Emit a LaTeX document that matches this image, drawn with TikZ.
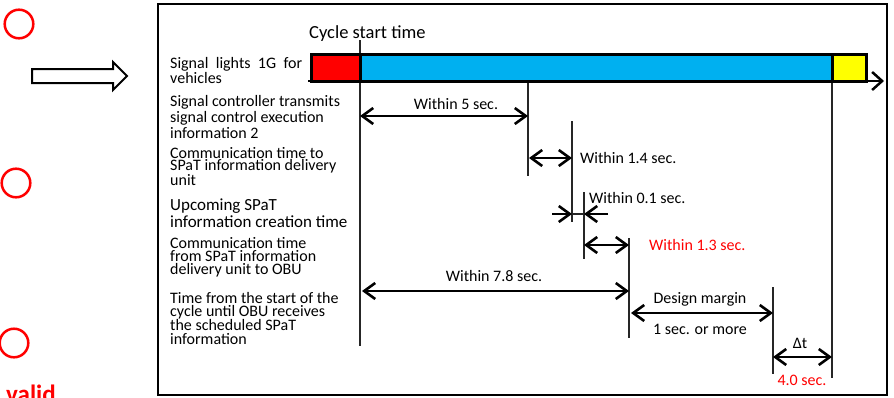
\documentclass[tikz,border=0pt]{standalone}
\usepackage{fontspec}
\setmainfont{Carlito}
\usetikzlibrary{arrows.meta}
\definecolor{barred}{RGB}{255,0,0}
\definecolor{barblue}{RGB}{0,176,240}
\definecolor{baryellow}{RGB}{255,255,0}
\definecolor{warn}{RGB}{255,0,0}
% multi-line label: #1 = font size, #2 = line spacing, #3 = text
\newcommand\rowtext[3]{\parbox[t]{190pt}{\fontsize{#1}{#2}\selectfont\raggedright #3}}
\begin{document}
\begin{tikzpicture}[x=1pt,y=-1pt,
  tick/.style={line width=1.3pt, draw=black!85},
  barb/.tip={Straight Barb[length=11pt,width=16pt]},
  dim/.style={line width=2.6pt, barb-barb},
  onehead/.style={line width=2.6pt, -barb},
  rowlabel/.style={anchor=base west, inner sep=0pt},
  val/.style={anchor=base, inner sep=0pt, font=\fontsize{16}{19}\selectfont},
  valw/.style={anchor=base west, inner sep=0pt, font=\fontsize{16}{19}\selectfont},
  ringmark/.style={draw=warn, line width=2.5pt},
]
\useasboundingbox (0,0) rectangle (894,397);

% red circle marks and the block arrow on the left
\draw[ringmark] (19,24) circle (14.3pt);
\draw[ringmark] (16,183) circle (14.3pt);
\draw[ringmark] (14,343) circle (14.3pt);
\node[anchor=base west, inner sep=0pt, text=warn, font=\fontsize{25}{28}\selectfont\bfseries] (valid) at (6,402) {valid.};
\draw[line width=2pt, fill=white] (32,69) -- (113,69) -- (113,62) -- (127,76)
  -- (113,90) -- (113,83) -- (32,83) -- cycle;

% frame
\draw[line width=1.5pt] (158,4) rectangle (887,395);

% row labels
\node[rowlabel] (r1) at (170,68) {\rowtext{16}{15}{\makebox[132pt][s]{Signal lights 1G for}\\vehicles}};
\node[rowlabel] (r2) at (170,106) {\rowtext{16}{16}{Signal controller transmits\\signal control execution\\information 2}};
\node[rowlabel] (r3) at (170,158) {\rowtext{16}{12.5}{Communication time to\\SPaT information delivery\\unit}};
\node[rowlabel] (r4) at (170,210) {\rowtext{17}{17}{Upcoming SPaT\\information creation time}};
\node[rowlabel] (r5) at (170,248) {\rowtext{16}{13}{Communication time\\from SPaT information\\delivery unit to OBU}};
\node[rowlabel] (r6) at (170,303) {\rowtext{16}{13.3}{Time from the start of the\\cycle until OBU receives\\the scheduled SPaT\\information}};

\node[anchor=base west, inner sep=0pt, font=\fontsize{18.5}{20}\selectfont] (cst) at (309,38) {Cycle start time};

% tick lines
\coordinate (t0a) at (360,40);  \coordinate (t0b) at (360,346);
\coordinate (t1a) at (528,82);  \coordinate (t1b) at (528,176);
\coordinate (t2a) at (572,121); \coordinate (t2b) at (572,222);
\coordinate (t3a) at (584,192); \coordinate (t3b) at (584,259);
\coordinate (t4a) at (629,238); \coordinate (t4b) at (629,338);
\coordinate (t5a) at (773,287); \coordinate (t5b) at (773,374);
\coordinate (t6a) at (832,82);  \coordinate (t6b) at (832,378);
\foreach \i in {0,...,6} {\draw[tick] (t\i a) -- (t\i b);}

% signal bar and time axis
\coordinate (axL) at (308,81); \coordinate (axR) at (884,81);
\filldraw[fill=barred, line width=3pt] (311,54) rectangle (360,81);
\filldraw[fill=barblue, line width=3pt] (360,54) rectangle (832,81);
\filldraw[fill=baryellow, line width=3pt] (832,54) rectangle (866,81);
\draw[line width=2.5pt, -{Straight Barb[length=10pt,width=18pt]}] (axL) -- (axR);

% dimension arrows
\coordinate (d5l) at (360,116); \coordinate (d5r) at (528,116);
\draw[dim] (d5l) -- (d5r);
\node[val] (v5) at (456,109) {Within 5 sec.};

\coordinate (d14l) at (529,158); \coordinate (d14r) at (572,158);
\draw[dim] (d14l) -- (d14r);
\node[valw] (v14) at (580,163) {Within 1.4 sec.};

\coordinate (d01a) at (552,214); \coordinate (d01b) at (572,214);
\coordinate (d01c) at (584,214); \coordinate (d01d) at (608,214);
\draw[tick] (d01b) -- (d01c);
\draw[onehead] (d01a) -- (d01b);
\draw[onehead] (d01d) -- (d01c);
\node[valw] (v01) at (589,203) {Within 0.1 sec.};

\coordinate (d13l) at (584,245); \coordinate (d13r) at (629,245);
\draw[dim] (d13l) -- (d13r);
\node[valw, text=warn] (v13) at (649,250) {Within 1.3 sec.};

\coordinate (d78l) at (362,291); \coordinate (d78r) at (629,291);
\draw[dim] (d78l) -- (d78r);
\node[val] (v78) at (494,281) {Within 7.8 sec.};

\coordinate (dml) at (631,313); \coordinate (dmr) at (773,313);
\draw[dim] (dml) -- (dmr);
\node[val] (vdm) at (700,303) {Design margin};
\node[val] (vdm2) at (700,334) {1 sec. or more};

\coordinate (dtl) at (773,357); \coordinate (dtr) at (832,357);
\draw[dim] (dtl) -- (dtr);
\node[val] (vdt) at (800,348) {Δt};
\node[val, text=warn] (vdt2) at (802,385) {4.0 sec.};
\end{tikzpicture}
\end{document}
